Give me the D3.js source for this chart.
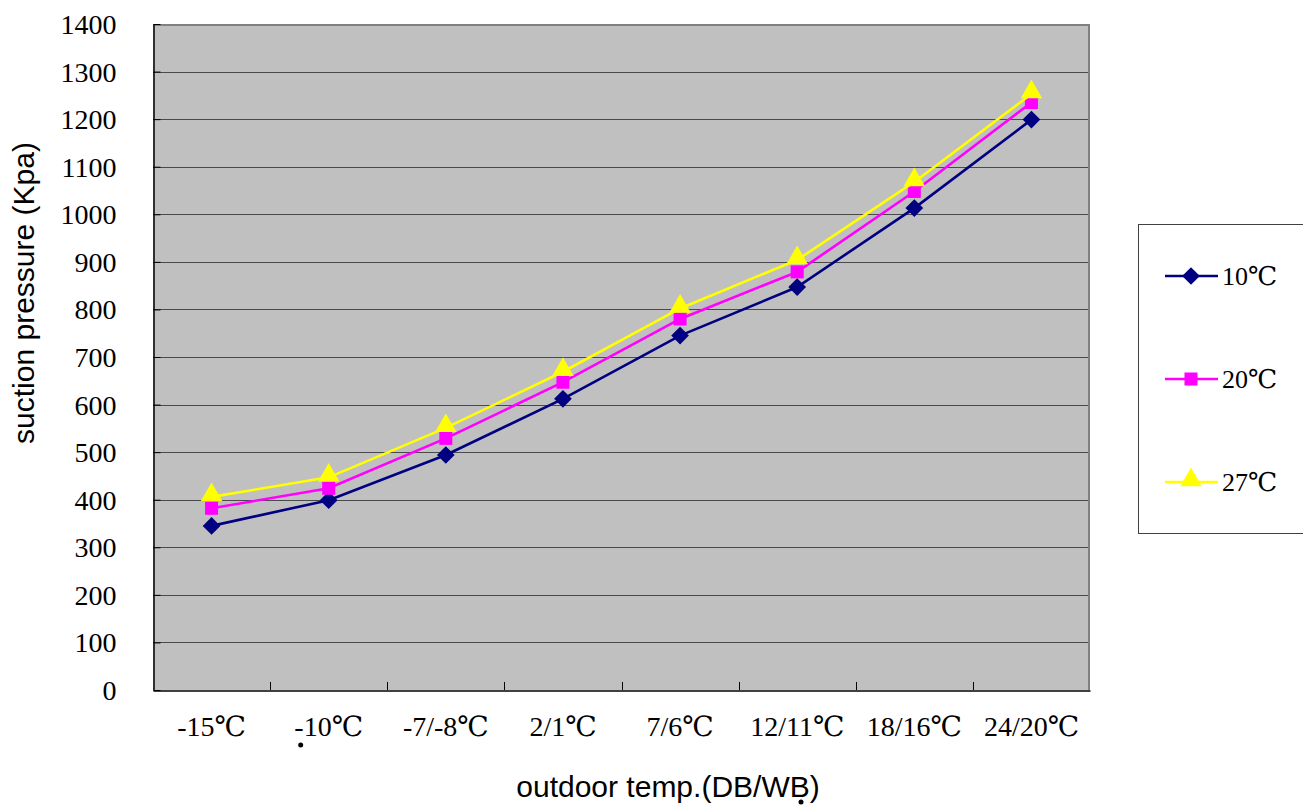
<!DOCTYPE html>
<html><head><meta charset="utf-8">
<script src="https://cdn.jsdelivr.net/npm/d3@7"></script>
<style>body{margin:0;background:#fff;}svg{display:block;}</style>
</head><body>
<svg id="c" width="1303" height="808"></svg>
<script>
const categories = ["-15℃", "-10℃", "-7/-8℃", "2/1℃", "7/6℃", "12/11℃", "18/16℃", "24/20℃"];
const series10 = [345, 399, 494, 612, 745, 847, 1013, 1199];
const series20 = [382, 424, 529, 647, 780, 879, 1048, 1235];
const series27 = [406, 447, 551, 669, 802, 904, 1068, 1253];
const seriesNames = ["10℃", "20℃", "27℃"];
const yTicks = [0,100,200,300,400,500,600,700,800,900,1000,1100,1200,1300,1400];

const svg = d3.select("#c");
const L = 153, R = 1090, T = 24, B = 690;
const x = d3.scaleBand().domain(categories).range([L, R]);
const y = d3.scaleLinear().domain([0, 1400]).range([B, T]);
const serif = "Liberation Serif, DejaVu Serif, serif";
const sans = "Liberation Sans, Arial, sans-serif";

svg.append("rect").attr("x", L).attr("y", T).attr("width", R - L).attr("height", B - T).attr("fill", "#c0c0c0");

// gridlines
svg.append("g").selectAll("line").data(yTicks.filter(d => d > 0 && d < 1400)).join("line")
  .attr("x1", L).attr("x2", R).attr("y1", d => Math.round(y(d)) + 0.5).attr("y2", d => Math.round(y(d)) + 0.5)
  .attr("stroke", "#4a4a4a").attr("stroke-width", 1);

// frame top/right gray
svg.append("line").attr("x1", L).attr("x2", R).attr("y1", T + 1).attr("y2", T + 1).attr("stroke", "#808080").attr("stroke-width", 2);
svg.append("line").attr("x1", R - 1).attr("x2", R - 1).attr("y1", T).attr("y2", B).attr("stroke", "#808080").attr("stroke-width", 2);

// y axis
const yAxis = d3.axisLeft(y).tickValues(yTicks).tickFormat(d3.format("d"))
  .tickSizeInner(-7).tickSizeOuter(0).tickPadding(37);
const gy = svg.append("g").attr("transform", `translate(${L + 0.5},0)`).call(yAxis);
gy.attr("font-family", serif).attr("font-size", 28);
gy.select(".domain").attr("stroke", "#000").attr("stroke-width", 1.5);
gy.selectAll(".tick line").attr("stroke", "#000");
gy.selectAll("text").style("font-family", serif).attr("font-size", 28).attr("fill", "#000").attr("dy", "0.34em");

// x axis
const xAxis = d3.axisBottom(x).tickSize(0).tickPadding(26);
const gx = svg.append("g").attr("transform", `translate(0,${B + 0.5})`).call(xAxis);
gx.attr("font-family", serif).attr("font-size", 28);
gx.select(".domain").attr("stroke", "#000").attr("stroke-width", 1.5);
gx.selectAll("text").style("font-family", serif).attr("font-size", 28).attr("fill", "#000").attr("dy", "0.7em");
// boundary ticks between categories
svg.append("g").selectAll("line").data(categories.slice(1)).join("line")
  .attr("x1", d => Math.round(x(d)) + 0.5).attr("x2", d => Math.round(x(d)) + 0.5)
  .attr("y1", B - 8).attr("y2", B).attr("stroke", "#000").attr("stroke-width", 1);

// axis titles
svg.append("text").attr("x", 668).attr("y", 797).attr("text-anchor", "middle")
  .style("font-family", sans).attr("font-size", 30).text("outdoor temp.(DB/WB)");
svg.append("text").attr("transform", "translate(34,293) rotate(-90)").attr("text-anchor", "middle")
  .style("font-family", sans).attr("font-size", 30).text("suction pressure (Kpa)");
// stray dots seen in the reference
svg.append("circle").attr("cx", x("-10℃") + x.bandwidth() / 2 - 28).attr("cy", 745).attr("r", 2.5).attr("fill", "#000");
svg.append("circle").attr("cx", 801).attr("cy", 802).attr("r", 2.5).attr("fill", "#000");

const cx = c => x(c) + x.bandwidth() / 2;
const colors = ["#000080", "#ff00ff", "#ffff00"];
const datasets = [series10, series20, series27];
const symbols = [d3.symbolDiamond2, d3.symbolSquare, d3.symbolTriangle];
const symSizes = [200, 170, 200];

const line = d3.line().x((d, i) => cx(categories[i])).y(d => y(d));
datasets.forEach((data, si) => {
  const g = svg.append("g");
  g.append("path").datum(data).attr("d", line).attr("fill", "none")
    .attr("stroke", colors[si]).attr("stroke-width", 2.6);
  g.selectAll("path.m").data(data).join("path").attr("class", "m")
    .attr("d", d3.symbol(symbols[si], symSizes[si]))
    .attr("transform", (d, i) => `translate(${cx(categories[i])},${y(d) - (si === 2 ? 2 : 0)})`)
    .attr("fill", colors[si]);
});

// legend
svg.append("rect").attr("x", 1138.5).attr("y", 224.5).attr("width", 180).attr("height", 309)
  .attr("fill", "#fff").attr("stroke", "#404040").attr("stroke-width", 1);
const ly = d3.scalePoint().domain(seriesNames).range([276, 482]);
seriesNames.forEach((n, si) => {
  const yy = ly(n);
  svg.append("line").attr("x1", 1165).attr("x2", 1218).attr("y1", yy).attr("y2", yy)
    .attr("stroke", colors[si]).attr("stroke-width", 2.6);
  svg.append("path").attr("d", d3.symbol(symbols[si], symSizes[si]))
    .attr("transform", `translate(1191,${yy - (si === 2 ? 2 : 0)})`).attr("fill", colors[si]);
  svg.append("text").attr("x", 1222).attr("y", yy).attr("dy", "0.35em")
    .style("font-family", serif).attr("font-size", 26).text(n);
});
</script>
</body></html>
